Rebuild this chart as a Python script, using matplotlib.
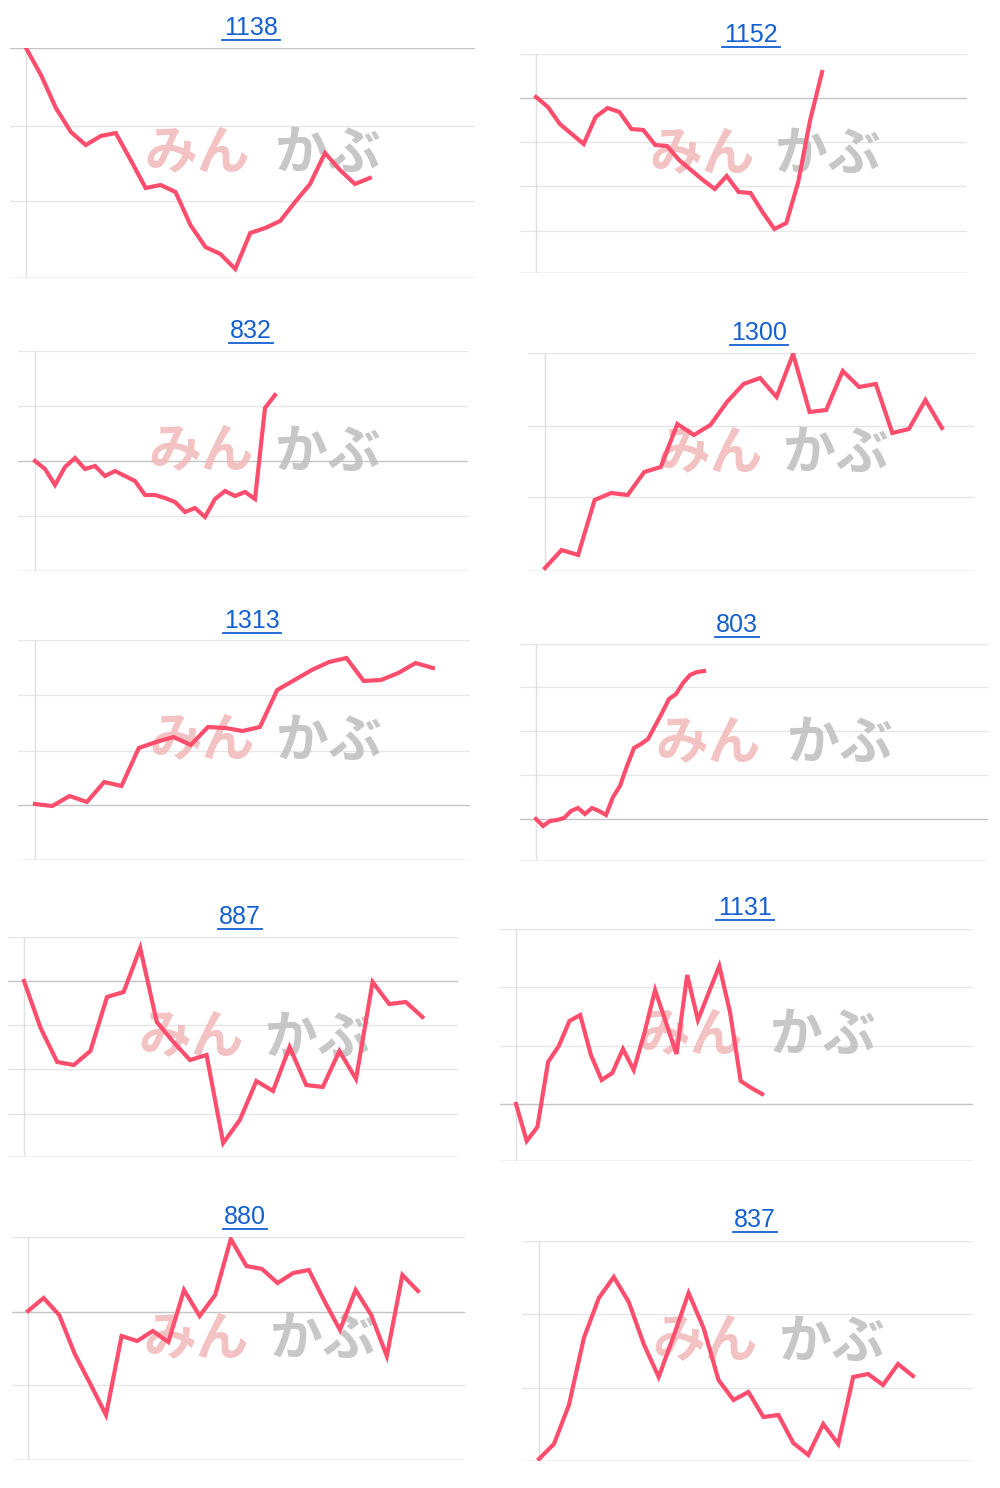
import matplotlib
matplotlib.use("Agg")
import matplotlib.pyplot as plt
from matplotlib.lines import Line2D

plt.rcParams['font.family'] = ['Noto Sans CJK JP', 'DejaVu Sans']

titles = ["1138", "1152", "832", "1300", "1313", "803", "887", "1131", "880", "837"]

# heights above each panel's bottom gridline
v1138 = [230, 203, 170, 146, 133, 142, 145, 118, 90, 93, 86, 53, 31, 24, 9, 45, 50, 57, 76, 94, 125, 108, 94, 100]
v1152 = [176, 166, 149, 139, 129, 156, 165, 161, 144, 143, 128, 127, 113, 103, 93, 84, 97, 81, 80, 61, 44, 50, 91, 153, 201]
v832 = [110, 102, 86, 104, 113, 102, 105, 95, 100, 95, 90, 76, 76, 73, 69, 59, 63, 54, 72, 80, 75, 79, 72, 163, 176]
v1300 = [3, 21, 16, 71, 78, 76, 99, 104, 147, 136, 146, 169, 187, 193, 174, 217, 159, 161, 200, 184, 187, 138, 142, 171, 143]
v1313 = [56, 54, 64, 58, 78, 74, 112, 118, 123, 115, 133, 132, 129, 133, 170, 180, 190, 198, 202, 179, 180, 187, 197, 192]
v803 = [42, 35, 40, 41, 43, 50, 53, 47, 53, 50, 46, 64, 75, 95, 113, 117, 122, 135, 148, 162, 167, 178, 186, 189, 190]
v887 = [176, 129, 95, 92, 106, 160, 165, 209, 135, 115, 97, 102, 14, 37, 76, 66, 110, 72, 70, 106, 78, 175, 153, 155, 140]
v1131 = [57, 20, 34, 99, 115, 140, 146, 106, 81, 88, 112, 91, 128, 171, 139, 107, 186, 141, 168, 195, 149, 80, 73, 67]
v880 = [149, 162, 145, 106, 76, 45, 124, 119, 129, 118, 170, 144, 165, 221, 194, 191, 177, 187, 190, 159, 130, 170, 145, 104, 185, 169]
v837 = [2, 17, 56, 123, 163, 184, 159, 117, 84, 125, 168, 133, 81, 61, 69, 44, 46, 18, 6, 37, 17, 84, 87, 76, 97, 85]
series = [v1138, v1152, v832, v1300, v1313, v803, v887, v1131, v880, v837]

# layout in pixels: axes left/right, grid rows (top..bottom), darker row, vertical line x, first point x, step
layout = [
    (10, 475, [48, 126, 201, 278], 48, 26, 26, 14.95),
    (520, 967, [54, 98, 142, 186, 231, 273], 98, 536, 536, 11.92),
    (18, 468, [351, 406, 461, 516, 571], 461, 35, 35, 10.0),
    (528, 975, [353, 426, 497, 571], None, 545, 545, 16.54),
    (18, 470, [640, 695, 751, 805, 860], 805, 35, 35, 17.3),
    (520, 988, [644, 687, 731, 775, 819, 861], 819, 536, 536, 7.0),
    (8, 458, [937, 981, 1025, 1069, 1114, 1157], 981, 24, 24, 16.6),
    (500, 973, [929, 987, 1046, 1104, 1161], 1104, 516, 516, 10.7),
    (12, 465, [1237, 1312, 1385, 1460], 1312, 28, 28, 15.6),
    (522, 973, [1241, 1314, 1388, 1461], None, 539, 539, 14.96),
]
title_xy = [(251, 28), (751, 35), (251, 331), (759, 333), (252, 621), (737, 625),
            (240, 917), (745, 908), (245, 1217), (755, 1220)]

W, H = 1000, 1488
fig = plt.figure(figsize=(10, 14.88), dpi=100)

for i, vals in enumerate(series):
    x0, x1, rows, dark, vx, xs, step = layout[i]
    top, bot = rows[0], rows[-1]
    ax = fig.add_axes([x0 / W, 1 - bot / H, (x1 - x0) / W, (bot - top) / H])
    ax.set_xlim((x0 - xs) / step, (x1 - xs) / step)
    ax.set_ylim(0, bot - top)
    ax.axis('off')
    for r in rows:
        c = '#c4c4c4' if (r == dark or r == bot) else '#e6e6e6'
        ax.axhline(bot - r, color=c, lw=1, zorder=1)
    ax.axvline((vx - xs) / step, color='#e0e0e0', lw=1, zorder=1)
    # watermark
    ax.text(0.29, 0.54, "みん", transform=ax.transAxes, fontsize=38, fontweight='bold',
            style='italic', color='#f2b8b8', alpha=0.85, ha='left', va='center', zorder=2)
    ax.text(0.57, 0.54, "かぶ", transform=ax.transAxes, fontsize=38, fontweight='bold',
            style='italic', color='#bdbdbd', alpha=0.85, ha='left', va='center', zorder=2)
    ax.plot(range(len(vals)), vals, color='#ff4d6d', lw=3, zorder=3, solid_joinstyle='miter')

    tx, ty = title_xy[i]
    fig.text(tx / W, 1 - ty / H, titles[i], fontsize=18, color='#1560d0', ha='center', va='center',
             family='Liberation Sans')
    hw = 13.8 * len(titles[i]) / 2 + 1
    fig.add_artist(Line2D([(tx - hw) / W, (tx + hw) / W], [1 - (ty + 12) / H] * 2,
                          color='#1560d0', lw=1.3))

fig.savefig("out.png", dpi=100)
